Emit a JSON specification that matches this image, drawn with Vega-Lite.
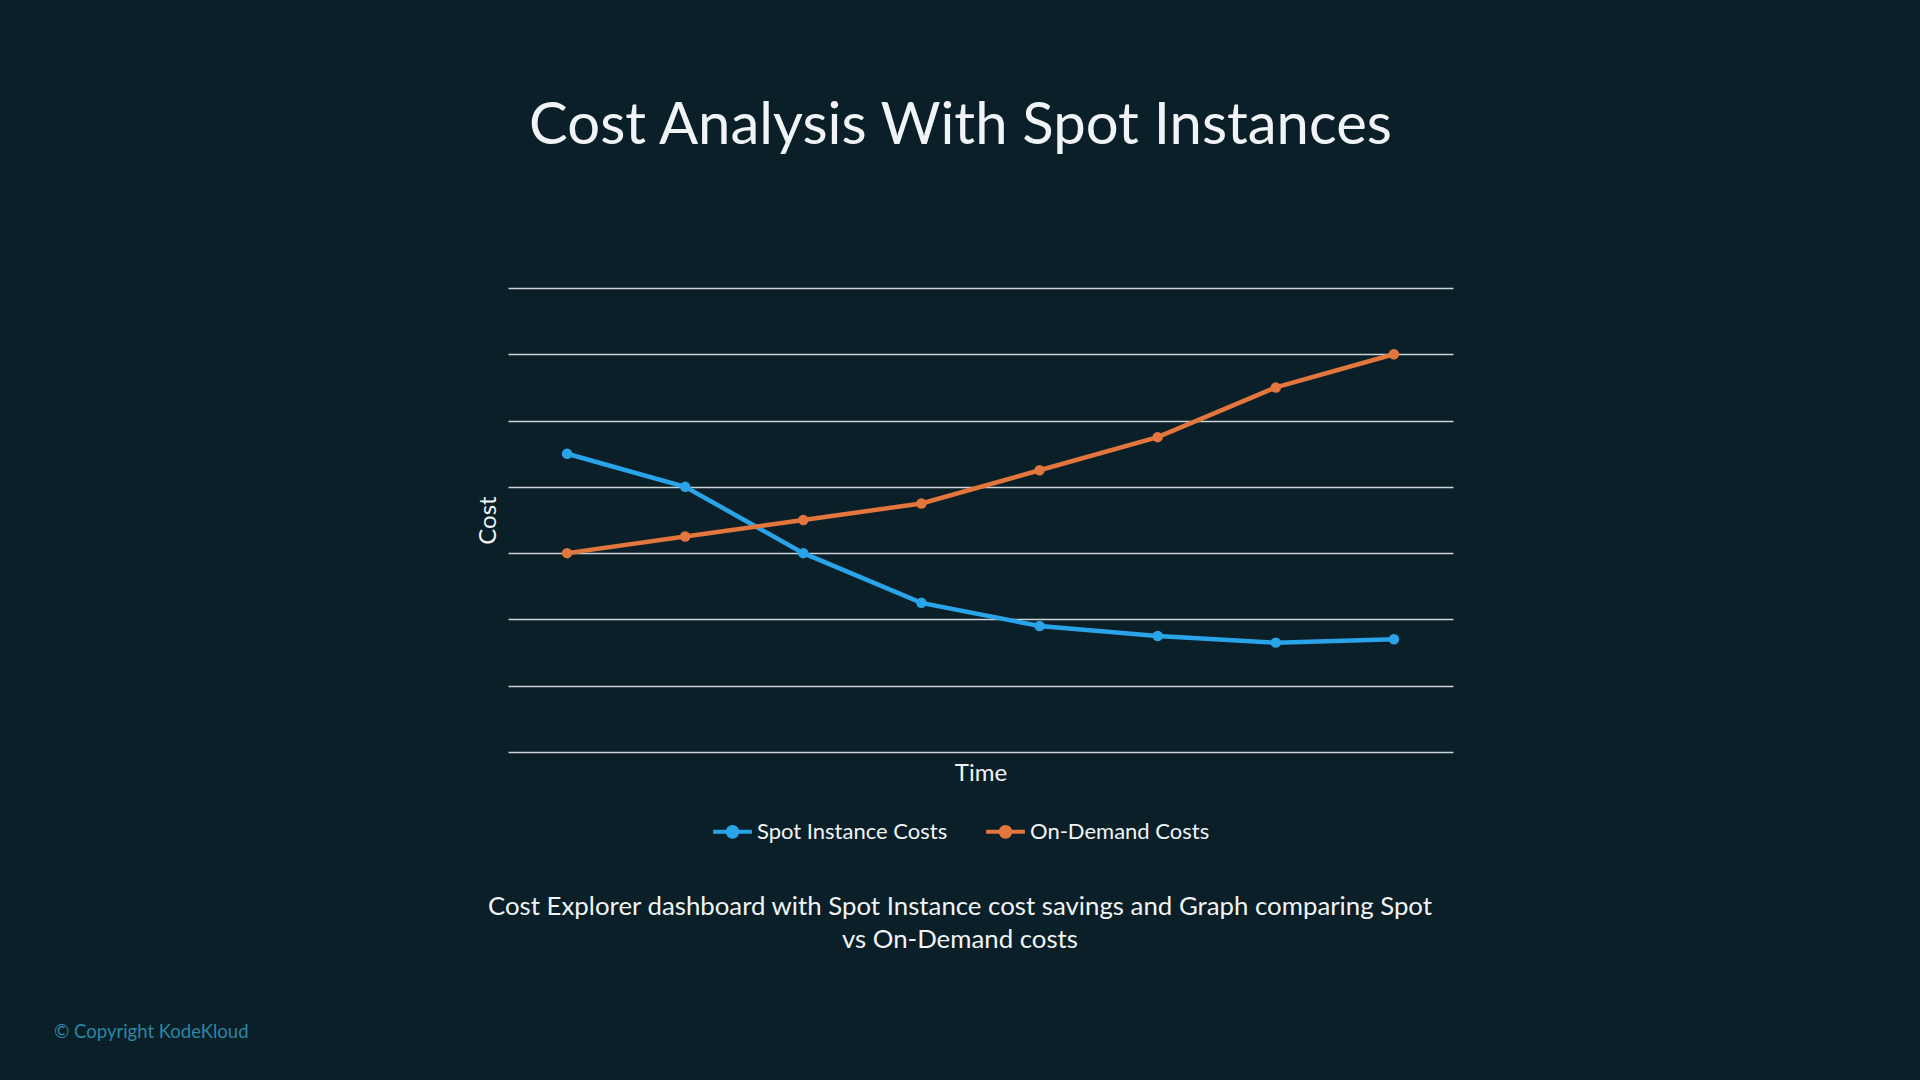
{
  "$schema": "https://vega.github.io/schema/vega-lite/v6.json",
  "background": "#0b1f28",
  "padding": {"left": 54, "top": 98, "right": 468, "bottom": 38},
  "config": {
    "font": "Lato",
    "view": {"stroke": null}
  },
  "title": {
    "text": "© Copyright KodeKloud",
    "orient": "bottom",
    "anchor": "start",
    "frame": "bounds",
    "font": "Lato",
    "fontSize": 18.5,
    "fontWeight": "normal",
    "color": "#2a87a6",
    "dx": -422,
    "offset": 70
  },
  "vconcat": [
    {
      "title": {
        "text": "Cost Analysis With Spot Instances",
        "anchor": "middle",
        "font": "Lato",
        "fontSize": 58,
        "fontWeight": "normal",
        "color": "#f1f4f6",
        "dx": -20,
        "offset": 132
      },
      "width": 945,
      "height": 464,
      "data": {
        "values": [
          {"period": 1, "series": "Spot Instance Costs", "cost": 4.5},
          {"period": 2, "series": "Spot Instance Costs", "cost": 4.0},
          {"period": 3, "series": "Spot Instance Costs", "cost": 3.0},
          {"period": 4, "series": "Spot Instance Costs", "cost": 2.25},
          {"period": 5, "series": "Spot Instance Costs", "cost": 1.9},
          {"period": 6, "series": "Spot Instance Costs", "cost": 1.75},
          {"period": 7, "series": "Spot Instance Costs", "cost": 1.65},
          {"period": 8, "series": "Spot Instance Costs", "cost": 1.7},
          {"period": 1, "series": "On-Demand Costs", "cost": 3.0},
          {"period": 2, "series": "On-Demand Costs", "cost": 3.25},
          {"period": 3, "series": "On-Demand Costs", "cost": 3.5},
          {"period": 4, "series": "On-Demand Costs", "cost": 3.75},
          {"period": 5, "series": "On-Demand Costs", "cost": 4.25},
          {"period": 6, "series": "On-Demand Costs", "cost": 4.75},
          {"period": 7, "series": "On-Demand Costs", "cost": 5.5},
          {"period": 8, "series": "On-Demand Costs", "cost": 6.0}
        ]
      },
      "encoding": {
        "x": {
          "field": "period",
          "type": "ordinal",
          "scale": {"type": "point", "padding": 0.5},
          "axis": {
            "title": "Time",
            "labels": false,
            "ticks": false,
            "domain": false,
            "grid": false,
            "titleFont": "Lato",
            "titleFontSize": 24,
            "titleFontWeight": "normal",
            "titleColor": "#f1f4f6",
            "titlePadding": 9
          }
        },
        "y": {
          "field": "cost",
          "type": "quantitative",
          "scale": {"domain": [0, 7], "nice": false, "zero": true},
          "axis": {
            "title": "Cost",
            "values": [0, 1, 2, 3, 4, 5, 6, 7],
            "labels": false,
            "ticks": false,
            "domain": false,
            "grid": true,
            "gridColor": "#c9d3d8",
            "gridWidth": 1.4,
            "gridOpacity": 1,
            "titleFont": "Lato",
            "titleFontSize": 24,
            "titleFontWeight": "normal",
            "titleColor": "#f1f4f6",
            "titlePadding": 8
          }
        },
        "color": {
          "field": "series",
          "type": "nominal",
          "sort": ["Spot Instance Costs", "On-Demand Costs"],
          "scale": {
            "domain": ["Spot Instance Costs", "On-Demand Costs"],
            "range": ["#2aa4e8", "#e2763d"]
          },
          "legend": {
            "orient": "none",
            "legendX": -21,
            "legendY": 522,
            "direction": "horizontal",
            "title": [
              "Cost Explorer dashboard with Spot Instance cost savings and Graph comparing Spot",
              "vs On-Demand costs"
            ],
            "titleOrient": "bottom",
            "titleAnchor": "middle",
            "titleAlign": "center",
            "titleFont": "Lato",
            "titleFontSize": 25.8,
            "titleFontWeight": "normal",
            "titleColor": "#f1f4f6",
            "titleLimit": 2000,
            "titleLineHeight": 33,
            "titlePadding": 50,
            "labelFont": "Lato",
            "labelFontSize": 22,
            "labelColor": "#f1f4f6",
            "labelLimit": 400,
            "labelOffset": 3,
            "columnPadding": 30,
            "symbolType": "M -1 0 L 1 0 M 0.25 0 A 0.25 0.25 0 1 1 -0.25 0 A 0.25 0.25 0 1 1 0.25 0 Z",
            "symbolSize": 1500,
            "symbolStrokeWidth": 4,
            "symbolOpacity": 1
          }
        }
      },
      "layer": [
        {"mark": {"type": "line", "strokeWidth": 4.5}},
        {"mark": {"type": "point", "filled": true, "size": 110, "opacity": 1}}
      ]
    }
  ]
}
